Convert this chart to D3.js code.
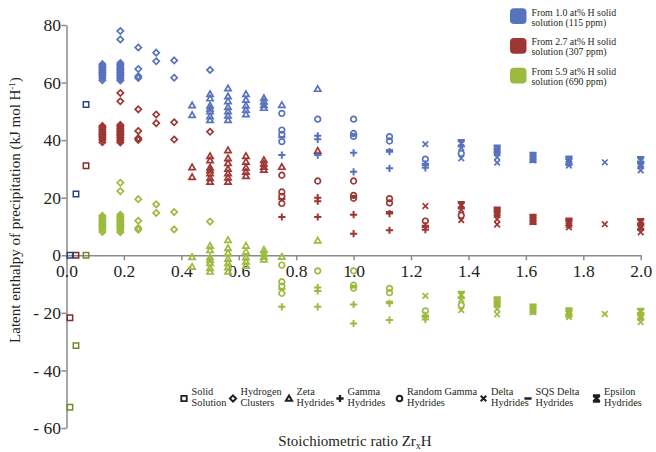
<!DOCTYPE html>
<html><head><meta charset="utf-8">
<script src="https://cdn.jsdelivr.net/npm/d3@7"></script>
</head><body style="margin:0;background:#fff">
<svg id="chart" width="656" height="452" style="display:block"></svg>
<script>
// Latent enthalpy of precipitation vs. Zr_xH ratio, for three solid-solution starting points.
const seriesLabels = [
  ["From 1.0 at% H solid", "solution (115 ppm)"],
  ["From 2.7 at% H solid", "solution (307 ppm)"],
  ["From 5.9 at% H solid", "solution (690 ppm)"]
];
const seriesColors = ["#5872bd", "#9c3733", "#9cba3e"];
const squareColors = ["#2e4185", "#7e2a28", "#6f8a2a"];

const xTicks = [0, 0.2, 0.4, 0.6, 0.8, 1.0, 1.2, 1.4, 1.6, 1.8, 2.0];
const yTicks = [-60, -40, -20, 0, 20, 40, 60, 80];

// Solid solution
const solidX = [0.012, 0.033, 0.068];
const solidBlue = [0, 21.3, 52.4];
const solidRed = [-21.7, 0, 31.1];
const solidGreen = [-52.8, -31.4, 0];

// Hydrogen clusters
const clusterX = [0.125,0.125,0.125,0.125,0.125,0.125,0.125,0.125,0.125,0.125,
  0.1875,0.1875,0.1875,0.1875,0.1875,0.1875,0.1875,0.1875,0.1875,0.1875,0.1875,0.1875,0.1875,0.1875,
  0.25,0.25,0.25,0.25, 0.3125,0.3125, 0.375,0.375, 0.5];
const clusterBlue = [60.8,61.6,62.3,62.9,63.5,64.0,64.6,65.2,65.8,66.4,
  60.7,61.3,61.9,62.5,63.0,63.5,64.0,64.5,65.0,65.6,66.2,66.8,75.0,77.9,
  72.2,64.7,62.2,61.6, 70.4,67.4, 67.7,61.7, 64.4];
const clusterRed = [39.3,40.1,40.8,41.4,42.0,42.5,43.1,43.7,44.3,44.9,
  39.2,39.8,40.4,41.0,41.5,42.0,42.5,43.0,43.5,44.1,44.7,45.3,53.5,56.4,
  50.7,43.2,40.7,40.1, 48.9,45.9, 46.2,40.2, 42.9];
const clusterGreen = [8.1,8.9,9.6,10.2,10.8,11.3,11.9,12.5,13.1,13.7,
  8.0,8.6,9.2,9.8,10.3,10.8,11.3,11.8,12.3,12.9,13.5,14.1,22.3,25.2,
  19.5,12.0,9.5,8.9, 17.7,14.7, 15.0,9.0, 11.7];

// Zeta hydrides
const zetaX = [0.4375,0.4375, 0.5,0.5,0.5,0.5,0.5,0.5,0.5,
  0.5625,0.5625,0.5625,0.5625,0.5625,0.5625,0.5625,
  0.625,0.625,0.625,0.625,0.625, 0.6875,0.6875,0.6875,0.6875, 0.75, 0.875];
const zetaBlue = [52.1,48.7, 56.0,54.5,52.0,51.0,50.0,48.3,47.0,
  58.0,55.2,53.5,51.5,50.0,48.5,47.0, 56.0,54.0,52.0,50.5,49.0,
  54.6,53.4,52.2,51.2, 52.2, 57.8];
const zetaRed = [30.6,27.2, 34.5,33.0,30.5,29.5,28.5,26.8,25.5,
  36.5,33.7,32.0,30.0,28.5,27.0,25.5, 34.5,32.5,30.5,29.0,27.5,
  33.1,31.9,30.7,29.7, 30.7, 36.3];
const zetaGreen = [-0.6,-4.0, 3.3,1.8,-0.7,-1.7,-2.7,-4.4,-5.7,
  5.3,2.5,0.8,-1.2,-2.7,-4.2,-5.7, 3.3,1.3,-0.7,-2.2,-3.7,
  1.9,0.7,-0.5,-1.5, -0.5, 5.1];

// Gamma hydrides
const gammaX = [0.75, 0.875,0.875,0.875, 1.0,1.0, 1.125,1.125, 1.25,1.25];
const gammaBlue = [34.8, 41.5,40.3,34.8, 35.6,29.0, 36.0,30.2, 31.8,30.4];
const gammaRed = [13.3, 20.0,18.8,13.3, 14.1,7.5, 14.5,8.7, 10.3,8.9];
const gammaGreen = [-17.9, -11.2,-12.4,-17.9, -17.1,-23.7, -16.7,-22.5, -20.9,-22.3];

// Random gamma hydrides
const randomX = [0.75,0.75,0.75,0.75, 0.875, 1.0,1.0,1.0, 1.125,1.125, 1.25, 1.375];
const randomBlue = [49.3,43.5,42.0,39.5, 47.3, 47.3,42.3,41.3, 41.2,39.7, 33.4, 35.4];
const randomRed = [27.8,22.0,20.5,18.0, 25.8, 25.8,20.8,19.8, 19.7,18.2, 11.9, 13.9];
const randomGreen = [-3.4,-9.2,-10.7,-13.2, -5.4, -5.4,-10.4,-11.4, -11.5,-13.0, -19.3, -17.3];

// Delta hydrides
const deltaX = [1.25, 1.375,1.375, 1.5,1.5, 1.625, 1.75, 1.875, 2.0,2.0];
const deltaBlue = [38.6, 37.3,33.7, 34.0,32.2, 33.0, 31.2, 32.3, 31.0,29.5];
const deltaRed = [17.1, 15.8,12.2, 12.5,10.7, 11.5, 9.7, 10.8, 9.5,8.0];
const deltaGreen = [-14.1, -15.4,-19.0, -18.7,-20.5, -19.7,-21.5, -20.4, -21.7,-23.2];

// SQS delta hydrides
const sqsX = [0.75, 1.0, 1.125, 1.25];
const sqsBlue = [41.0, 41.8, 36.5, 31.3];
const sqsRed = [19.5, 20.3, 15.0, 9.8];
const sqsGreen = [-11.7, -10.9, -16.2, -21.4];

// Epsilon hydrides
const epsilonX = [1.375, 1.5,1.5, 1.625,1.625, 1.75,1.75, 2.0,2.0];
const epsilonBlue = [38.9, 37.0,36.0, 34.5,33.5, 33.2,32.5, 33.0,31.5];
const epsilonRed = [17.4, 15.5,14.5, 13.0,12.0, 11.7,11.0, 11.5,10.0];
const epsilonGreen = [-13.8, -15.7,-16.7, -18.2,-19.2, -19.5,-20.2, -19.7,-21.2];

const typeLabels = [["Solid","Solution"],["Hydrogen","Clusters"],["Zeta","Hydrides"],["Gamma","Hydrides"],
  ["Random Gamma","Hydrides"],["Delta","Hydrides"],["SQS Delta","Hydrides"],["Epsilon","Hydrides"]];

// ---- marker shapes ----
const shapes = {
  square: {draw(c){ const r=2.7; c.rect(-r,-r,2*r,2*r); }},
  diamond: {draw(c){ const r=3.1; c.moveTo(0,-r); c.lineTo(r,0); c.lineTo(0,r); c.lineTo(-r,0); c.closePath(); }},
  triangle: {draw(c){ const r=3.1; c.moveTo(0,-r); c.lineTo(r,r*0.75); c.lineTo(-r,r*0.75); c.closePath(); }},
  plus: {draw(c){ const r=3.6; c.moveTo(-r,0); c.lineTo(r,0); c.moveTo(0,-r); c.lineTo(0,r); }},
  circle: {draw(c){ const r=2.8; c.moveTo(r,0); c.arc(0,0,r,0,2*Math.PI); }},
  cross: {draw(c){ const r=2.8; c.moveTo(-r,-r); c.lineTo(r,r); c.moveTo(r,-r); c.lineTo(-r,r); }},
  dash: {draw(c){ const r=3.6; c.moveTo(-r,0); c.lineTo(r,0); }},
  bold: {draw(c){ const r=3; c.moveTo(-r,-r); c.lineTo(r,r); c.moveTo(r,-r); c.lineTo(-r,r);
                  c.moveTo(-r-0.6,-r); c.lineTo(r+0.6,-r); c.moveTo(-r-0.6,r); c.lineTo(r+0.6,r); }}
};
const strokeW = {square:1.5, diamond:1.7, triangle:1.7, plus:2, circle:1.7, cross:1.7, dash:2.2, bold:2.4};

const groups = [
  {shape:"square",   x:solidX,   ys:[solidBlue, solidRed, solidGreen], dark:true},
  {shape:"diamond",  x:clusterX, ys:[clusterBlue, clusterRed, clusterGreen]},
  {shape:"triangle", x:zetaX,    ys:[zetaBlue, zetaRed, zetaGreen]},
  {shape:"plus",     x:gammaX,   ys:[gammaBlue, gammaRed, gammaGreen]},
  {shape:"circle",   x:randomX,  ys:[randomBlue, randomRed, randomGreen]},
  {shape:"cross",    x:deltaX,   ys:[deltaBlue, deltaRed, deltaGreen]},
  {shape:"dash",     x:sqsX,     ys:[sqsBlue, sqsRed, sqsGreen]},
  {shape:"bold",     x:epsilonX, ys:[epsilonBlue, epsilonRed, epsilonGreen]}
];

const svg = d3.select("#chart");
const x = d3.scaleLinear().domain([0, 2]).range([66.5, 640.7]);
const y = d3.scaleLinear().domain([-60, 80]).range([428, 25]);
const axisColor = "#8a8a8a";
const ink = "#231f20";
const serif = "'Liberation Serif'";
const addText = (sel) => sel.append("text").style("font-family", serif).attr("fill", ink);

// axes
const yAxis = svg.append("g").attr("transform", `translate(${x(0)},0)`)
  .call(d3.axisLeft(y).tickValues(yTicks).tickSize(5).tickSizeOuter(0).tickPadding(0.5)
    .tickFormat(d => d < 0 ? "- " + (-d) : String(d)));
const xAxis = svg.append("g").attr("transform", `translate(0,${y(0)})`)
  .call(d3.axisBottom(x).tickValues(xTicks).tickSize(5).tickSizeOuter(0).tickPadding(4)
    .tickFormat(d3.format(".1f")));
[yAxis, xAxis].forEach(a => {
  a.attr("font-family", null).attr("font-size", null)
   .style("font-family", serif).style("font-size", "17.5px");
  a.selectAll("path,line").attr("stroke", axisColor).attr("stroke-width", 1.5);
  a.selectAll("text").attr("font-family", "Liberation Serif")
   .style("font-family", serif).style("font-size", "17.5px").attr("fill", ink);
});

// markers
const sym = d3.symbol();
const plot = svg.append("g");
[2, 1, 0].forEach(si => {
  groups.forEach(g => {
    const pts = g.x.map((v, i) => [v, g.ys[si][i]]);
    plot.append("g").selectAll("path").data(pts).join("path")
      .attr("transform", d => `translate(${x(d[0])},${y(d[1])})`)
      .attr("d", sym.type(shapes[g.shape]))
      .attr("fill", "none")
      .attr("stroke", g.dark ? squareColors[si] : seriesColors[si])
      .attr("stroke-width", strokeW[g.shape]);
  });
});

// axis titles
addText(svg)
  .attr("transform", "translate(20,210) rotate(-90)")
  .attr("text-anchor", "middle").style("font-size", "15px")
  .call(t => {
    t.append("tspan").text("Latent enthalpy of precipitation (kJ mol H");
    t.append("tspan").style("font-size", "9px").attr("dy", -5.5).text("-1");
    t.append("tspan").attr("dy", 5.5).text(")");
  });
addText(svg)
  .attr("x", 355).attr("y", 446).attr("text-anchor", "middle").style("font-size", "15px")
  .call(t => {
    t.append("tspan").text("Stoichiometric ratio Zr");
    t.append("tspan").style("font-size", "10px").attr("dy", 3).text("x");
    t.append("tspan").attr("dy", -3).text("H");
  });

// series legend (top right)
const sl = svg.append("g");
seriesLabels.forEach((lines, i) => {
  const gy = 8.3 + i * 29.7;
  sl.append("rect").attr("x", 510).attr("y", gy).attr("width", 16.5).attr("height", 15.8)
    .attr("rx", 4).attr("fill", seriesColors[i]);
  lines.forEach((s, k) => addText(sl).attr("x", 531.5).attr("y", gy + 7.4 + k * 10)
    .style("font-size", "9.8px").text(s));
});

// marker-type legend (bottom)
const typeX = [184, 233, 289, 340, 399.5, 483.5, 528, 596.5];
const tl = svg.append("g");
groups.forEach((g, i) => {
  tl.append("path").attr("transform", `translate(${typeX[i]},398.5)`)
    .attr("d", sym.type(shapes[g.shape])).attr("fill", "none")
    .attr("stroke", ink).attr("stroke-width", strokeW[g.shape] + 0.3);
  typeLabels[i].forEach((s, k) => addText(tl).attr("x", typeX[i] + 7.5).attr("y", 395 + k * 10.5)
    .style("font-size", "10.3px").text(s));
});
</script>
</body></html>
